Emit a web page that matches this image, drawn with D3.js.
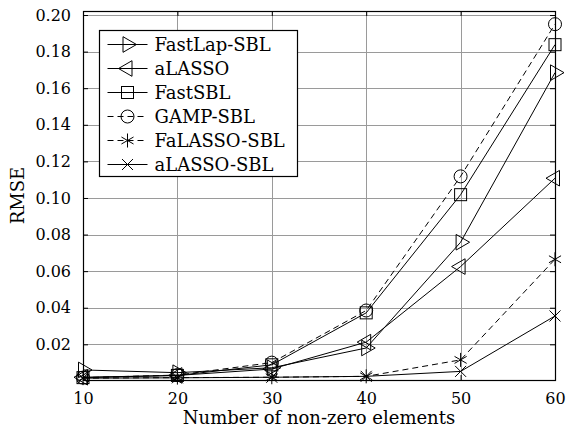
<!DOCTYPE html>
<html>
<head>
<meta charset="utf-8">
<script src="https://cdn.jsdelivr.net/npm/d3@7"></script>
<style>
  html, body { margin: 0; padding: 0; background: #fff; }
  svg { display: block; }
  text { font-family: "DejaVu Serif", "Liberation Serif", serif; fill: #000; }
</style>
</head>
<body>
<svg id="chart" width="566" height="434"></svg>
<script>
// Number of non-zero elements (sparsity level)
const sparsity = [10, 20, 30, 40, 50, 60];

// RMSE of each recovery algorithm
const fastLapSBL  = [0.0060, 0.0045, 0.0072, 0.0180, 0.0758, 0.1685];
const aLASSO      = [0.0020, 0.0030, 0.0065, 0.0212, 0.0625, 0.1108];
const fastSBL     = [0.0018, 0.0030, 0.0088, 0.0372, 0.1018, 0.1838];
const gampSBL     = [0.0018, 0.0032, 0.0100, 0.0385, 0.1118, 0.1950];
const faLASSOSBL  = [0.0015, 0.0018, 0.0020, 0.0025, 0.0115, 0.0665];
const aLASSOSBL   = [0.0015, 0.0017, 0.0020, 0.0025, 0.0052, 0.0355];

const seriesNames = ["FastLap-SBL", "aLASSO", "FastSBL", "GAMP-SBL", "FaLASSO-SBL", "aLASSO-SBL"];
const seriesValues = [fastLapSBL, aLASSO, fastSBL, gampSBL, faLASSOSBL, aLASSOSBL];
const seriesMarkers = ["triRight", "triLeft", "square", "circle", "asterisk", "cross"];
const seriesDashed = [false, false, false, true, true, false];

const xTicks = [10, 20, 30, 40, 50, 60];
const yTicks = [0.02, 0.04, 0.06, 0.08, 0.10, 0.12, 0.14, 0.16, 0.18, 0.20];

const svg = d3.select("#chart");
const plot = { left: 83, right: 555, top: 11, bottom: 380 };

const x = d3.scaleLinear().domain([10, 60]).range([plot.left, plot.right]);
const y = d3.scaleLinear().domain([0.0005, 0.2022]).range([plot.bottom, plot.top]);

// grid
const grid = svg.append("g").attr("stroke", "#9a9a9a").attr("stroke-width", 1);
grid.selectAll("line.h").data(yTicks).join("line")
  .attr("x1", plot.left).attr("x2", plot.right)
  .attr("y1", d => Math.round(y(d)) + 0.5).attr("y2", d => Math.round(y(d)) + 0.5);
grid.selectAll("line.v").data(xTicks).join("line")
  .attr("y1", plot.top).attr("y2", plot.bottom)
  .attr("x1", d => Math.round(x(d)) + 0.5).attr("x2", d => Math.round(x(d)) + 0.5);

// axes with inward ticks
const fmtY = d3.format(".2f");
const axL = d3.axisLeft(y).tickValues(yTicks).tickFormat(fmtY).tickSizeInner(-5).tickSizeOuter(0).tickPadding(12);
const axR = d3.axisRight(y).tickValues(yTicks).tickFormat("").tickSizeInner(-5).tickSizeOuter(0);
const axB = d3.axisBottom(x).tickValues(xTicks).tickFormat(d3.format("d")).tickSizeInner(-5).tickSizeOuter(0).tickPadding(13);
const axT = d3.axisTop(x).tickValues(xTicks).tickFormat("").tickSizeInner(-5).tickSizeOuter(0);

function styleAxis(g) {
  g.select(".domain").remove();
  g.selectAll(".tick line").attr("stroke", "#000");
  g.selectAll(".tick text").style("font-family", "'DejaVu Serif', serif").style("font-size", "16px").attr("fill", "#000");
}
svg.append("g").attr("transform", `translate(${plot.left},0)`).call(axL).call(styleAxis);
svg.append("g").attr("transform", `translate(${plot.right},0)`).call(axR).call(styleAxis);
svg.append("g").attr("transform", `translate(0,${plot.bottom})`).call(axB).call(styleAxis);
svg.append("g").attr("transform", `translate(0,${plot.top})`).call(axT).call(styleAxis);

// frame
svg.append("rect")
  .attr("x", plot.left + 0.5).attr("y", plot.top + 0.5)
  .attr("width", plot.right - plot.left).attr("height", plot.bottom - plot.top)
  .attr("fill", "none").attr("stroke", "#000").attr("stroke-width", 1.2);

// marker shapes, centred on (0,0)
function drawMarker(g, type) {
  const s = g.append("g").attr("fill", "none").attr("stroke", "#000").attr("stroke-width", 1);
  if (type === "circle") {
    s.append("circle").attr("r", 6.5);
  } else if (type === "square") {
    s.append("rect").attr("x", -6).attr("y", -6).attr("width", 12).attr("height", 12);
  } else if (type === "triRight") {
    s.append("path").attr("d", "M9,0L-4.5,-7.8L-4.5,7.8Z");
  } else if (type === "triLeft") {
    s.append("path").attr("d", "M-9,0L4.5,-7.8L4.5,7.8Z");
  } else if (type === "asterisk") {
    const r = 7;
    [90, 30, -30].forEach(a => {
      const dx = r * Math.cos(a * Math.PI / 180), dy = r * Math.sin(a * Math.PI / 180);
      s.append("line").attr("x1", -dx).attr("y1", -dy).attr("x2", dx).attr("y2", dy);
    });
  } else if (type === "cross") {
    const r = 5.5;
    s.append("path").attr("d", `M${-r},${-r}L${r},${r}M${-r},${r}L${r},${-r}`);
  }
}

// series lines and markers
const line = d3.line().x((d, i) => x(sparsity[i])).y(d => y(d));
seriesValues.forEach((vals, k) => {
  const g = svg.append("g");
  g.append("path").datum(vals).attr("d", line)
    .attr("fill", "none").attr("stroke", "#000").attr("stroke-width", 1)
    .attr("stroke-dasharray", seriesDashed[k] ? "6,4" : null);
  vals.forEach((v, i) => {
    const m = g.append("g").attr("transform", `translate(${x(sparsity[i])},${y(v)})`);
    drawMarker(m, seriesMarkers[k]);
  });
});

// legend
const lg = svg.append("g").attr("transform", "translate(99.5,30.5)");
lg.append("rect").attr("width", 198).attr("height", 146)
  .attr("fill", "#fff").attr("stroke", "#000").attr("stroke-width", 1.2);
seriesNames.forEach((name, k) => {
  const cy = 14 + k * 24;
  const row = lg.append("g").attr("transform", `translate(0,${cy})`);
  row.append("line").attr("x1", 8).attr("x2", 48).attr("y1", 0).attr("y2", 0)
    .attr("stroke", "#000").attr("stroke-width", 1)
    .attr("stroke-dasharray", seriesDashed[k] ? "6,4" : null);
  const m = row.append("g").attr("transform", "translate(28,0)");
  drawMarker(m, seriesMarkers[k]);
  row.append("text").attr("x", 55).attr("y", 0).attr("dy", "0.36em")
    .style("font-size", "18px").text(name);
});

// axis titles
svg.append("text")
  .attr("x", (plot.left + plot.right) / 2).attr("y", 424)
  .attr("text-anchor", "middle").style("font-size", "18px")
  .text("Number of non-zero elements");
svg.append("text")
  .attr("transform", `translate(24,${(plot.top + plot.bottom) / 2}) rotate(-90)`)
  .attr("text-anchor", "middle").style("font-size", "18px")
  .text("RMSE");
</script>
</body>
</html>
